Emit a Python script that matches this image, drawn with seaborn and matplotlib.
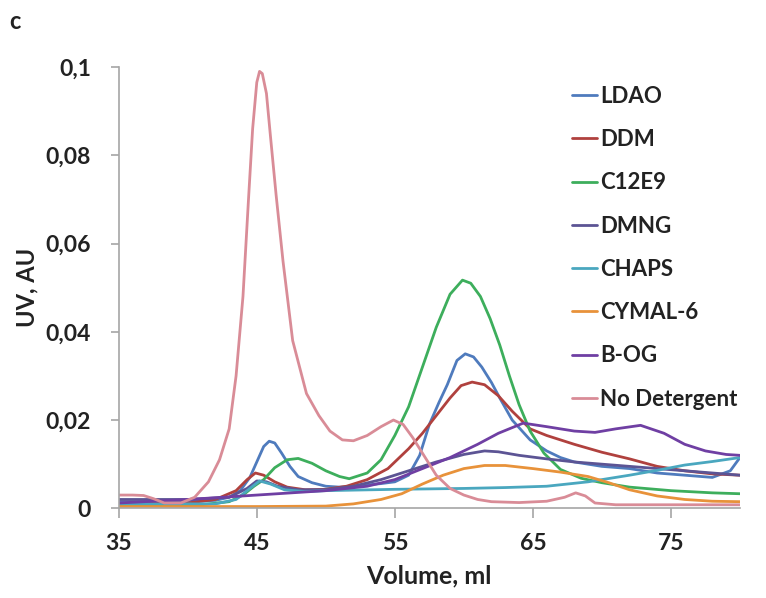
import numpy as np
import pandas as pd
import seaborn as sns
import matplotlib.pyplot as plt

# elution profiles (volume in ml, UV in AU)
nodet_x = [35, 36, 36.8, 37.5, 38.3, 39.5, 40.5, 41.5, 42.3, 43, 43.5, 44, 44.4, 44.7, 45.0,
           45.2, 45.4, 45.7, 46.0, 46.4, 46.9, 47.6, 48.6, 49.5, 50.3, 51.2, 52, 53, 54, 54.9,
           55.6, 56.3, 57, 58, 59, 60, 61, 62, 64, 66, 67.3, 68.1, 68.8, 69.5, 71, 75, 80]
nodet_y = [0.003, 0.003, 0.0029, 0.0022, 0.0012, 0.0012, 0.0025, 0.006, 0.011, 0.018, 0.03,
           0.048, 0.070, 0.086, 0.0965, 0.099, 0.0985, 0.094, 0.084, 0.071, 0.056, 0.038, 0.026,
           0.021, 0.0175, 0.0155, 0.0153, 0.0165, 0.0185, 0.020, 0.019, 0.016, 0.0125, 0.0075,
           0.0045, 0.003, 0.002, 0.0015, 0.0013, 0.0016, 0.0025, 0.0035, 0.0028, 0.0012, 0.0008,
           0.0008, 0.0008]

ldao_x = [35, 40, 42, 43, 43.8, 44.5, 45, 45.5, 45.9, 46.3, 46.8, 47.4, 48, 49, 50, 51, 52,
          53, 54, 55, 56, 56.8, 57.5, 58.2, 58.8, 59.5, 60.1, 60.7, 61.3, 62, 62.6, 63.5, 64.8,
          66, 67, 68, 70, 72, 74, 76, 78, 79.3, 80]
ldao_y = [0.0015, 0.0015, 0.0018, 0.0025, 0.004, 0.007, 0.0105, 0.014, 0.0152, 0.0148, 0.0125,
          0.0095, 0.0072, 0.0058, 0.005, 0.0048, 0.005, 0.0053, 0.0056, 0.006, 0.0075, 0.012,
          0.019, 0.024, 0.028, 0.0335, 0.035, 0.0343, 0.032, 0.0285, 0.025, 0.02, 0.0155, 0.013,
          0.0115, 0.0105, 0.0095, 0.009, 0.008, 0.0075, 0.007, 0.0085, 0.0115]

ddm_x = [35, 40, 42, 43.5, 44.3, 44.9, 45.5, 46.3, 47.2, 48.5, 50, 51.5, 53, 54.5, 56, 57, 58,
         59, 59.8, 60.6, 61.5, 62.5, 63.5, 64.8, 66, 68, 70, 72, 74, 76, 78, 80]
ddm_y = [0.001, 0.0012, 0.002, 0.004, 0.0065, 0.008, 0.0075, 0.006, 0.0048, 0.0042, 0.0043,
         0.005, 0.0065, 0.009, 0.0135, 0.017, 0.021, 0.025, 0.0278, 0.0286, 0.028, 0.0255,
         0.022, 0.018, 0.0165, 0.0145, 0.0127, 0.0112, 0.0095, 0.0085, 0.0078, 0.0075]

c12e9_x = [35, 41, 43, 44, 44.8, 45.5, 46.3, 47.2, 48, 49, 50, 51, 51.7, 53, 54, 55, 56, 57,
           58, 59, 59.9, 60.5, 61.2, 61.9, 62.6, 63.3, 64, 64.8, 65.8, 67, 68.5, 70, 72, 75, 78, 80]
c12e9_y = [0.0008, 0.0008, 0.0015, 0.003, 0.005, 0.0065, 0.0092, 0.011, 0.0113, 0.0102, 0.0085,
           0.0072, 0.0067, 0.008, 0.011, 0.0165, 0.023, 0.032, 0.041, 0.0485, 0.0517, 0.051,
           0.048, 0.043, 0.037, 0.030, 0.0235, 0.0175, 0.0125, 0.0088, 0.0068, 0.0058, 0.0048,
           0.004, 0.0035, 0.0033]

dmng_x = [35, 40, 43, 44.3, 45, 45.7, 46.5, 48, 50, 52, 54, 56, 58, 60, 61.5, 62.5, 64, 66, 68,
          70, 72, 74, 76, 78, 80]
dmng_y = [0.002, 0.002, 0.0025, 0.0045, 0.0062, 0.006, 0.005, 0.0042, 0.0042, 0.005, 0.0065,
          0.0085, 0.0105, 0.0122, 0.013, 0.0128, 0.012, 0.0112, 0.0105, 0.01, 0.0095, 0.009,
          0.0085, 0.008, 0.0075]

chaps_x = [35, 42, 43.5, 44.5, 45.2, 46, 47, 48.5, 50, 55, 60, 63, 66, 69, 72, 74, 76, 78, 80]
chaps_y = [0.001, 0.001, 0.002, 0.0045, 0.0062, 0.0055, 0.0042, 0.0038, 0.004, 0.0043, 0.0045,
           0.0047, 0.005, 0.006, 0.0075, 0.0086, 0.0098, 0.0106, 0.0115]

cymal_x = [35, 45, 50, 52, 54, 55.5, 57, 58.5, 60, 61.5, 63, 65, 67, 69, 70.5, 72, 74, 76, 78, 80]
cymal_y = [0.0004, 0.0004, 0.0005, 0.001, 0.002, 0.0033, 0.0055, 0.0075, 0.009, 0.0097, 0.0097,
           0.009, 0.0082, 0.0072, 0.0058, 0.0042, 0.0028, 0.002, 0.0016, 0.0015]

bog_x = [35, 40, 45, 50, 53, 55, 57, 59, 61, 62.5, 64.3, 66, 68, 69.5, 71, 72.8, 74.5, 76,
         77.5, 79, 80]
bog_y = [0.0012, 0.002, 0.003, 0.004, 0.005, 0.0065, 0.009, 0.0115, 0.0145, 0.017, 0.0193,
         0.0185, 0.0175, 0.0172, 0.018, 0.0188, 0.017, 0.0145, 0.013, 0.0122, 0.012]

names = ["LDAO", "DDM", "C12E9", "DMNG", "CHAPS", "CYMAL-6", "B-OG", "No Detergent"]
colors = ["#4f7bbd", "#b0413e", "#3dae5c", "#5c5494", "#4aa7bf", "#e8923a", "#6f3fa3", "#d98c97"]
curves = [(ldao_x, ldao_y), (ddm_x, ddm_y), (c12e9_x, c12e9_y), (dmng_x, dmng_y),
          (chaps_x, chaps_y), (cymal_x, cymal_y), (bog_x, bog_y), (nodet_x, nodet_y)]

yticks = [0, 0.02, 0.04, 0.06, 0.08, 0.1]
ytick_labels = ["0", "0,02", "0,04", "0,06", "0,08", "0,1"]
xticks = [35, 45, 55, 65, 75]

if __name__ == "__main__":
    df = pd.concat([pd.DataFrame({"vol": x, "uv": y, "det": n})
                    for n, (x, y) in zip(names, curves)], ignore_index=True)

    sns.set_style("white")
    plt.rcParams["font.family"] = ["Lato", "DejaVu Sans"]
    plt.rcParams["font.weight"] = "bold"
    txt = "#222222"
    gray = "#a6a6a6"

    fig = plt.figure(figsize=(7.66, 5.98), dpi=100)
    ax = fig.add_axes([0.155, 0.15, 0.811, 0.738])

    sns.lineplot(data=df, x="vol", y="uv", hue="det", hue_order=names,
                 palette=dict(zip(names, colors)), linewidth=2, sort=False,
                 estimator=None, ax=ax)

    ax.set_xlim(35, 80)
    ax.set_ylim(0, 0.1)
    ax.set_xticks(xticks)
    ax.set_yticks(yticks)
    ax.set_yticklabels(ytick_labels)
    ax.set_xlabel("Volume, ml", fontsize=18, fontweight="bold", color=txt, labelpad=7)
    ax.set_ylabel("UV, AU", fontsize=17, fontweight="bold", color=txt, labelpad=5)
    ax.tick_params(axis="both", labelsize=16.5, labelcolor=txt, bottom=True, left=True,
                   direction="out", color=gray, width=1.2)
    ax.tick_params(axis="x", length=7, pad=11)
    ax.tick_params(axis="y", length=6, pad=14)
    for lab in ax.get_xticklabels() + ax.get_yticklabels():
        lab.set_fontweight("bold")
    sns.despine(ax=ax)
    for s in ["left", "bottom"]:
        ax.spines[s].set_color(gray)
        ax.spines[s].set_linewidth(1.2)

    leg = ax.legend(loc="upper left", bbox_to_anchor=(572 / 766, 1 - 86 / 598),
                    bbox_transform=fig.transFigure, frameon=False, fontsize=16,
                    handlelength=1.12, handletextpad=0.15, labelspacing=1.0,
                    borderpad=0, borderaxespad=0)
    for t in leg.get_texts():
        t.set_fontweight("bold")
        t.set_color(txt)

    fig.text(0.012, 0.952, "c", fontsize=17, fontweight="bold", color=txt)

    plt.savefig("out.png", dpi=100)
